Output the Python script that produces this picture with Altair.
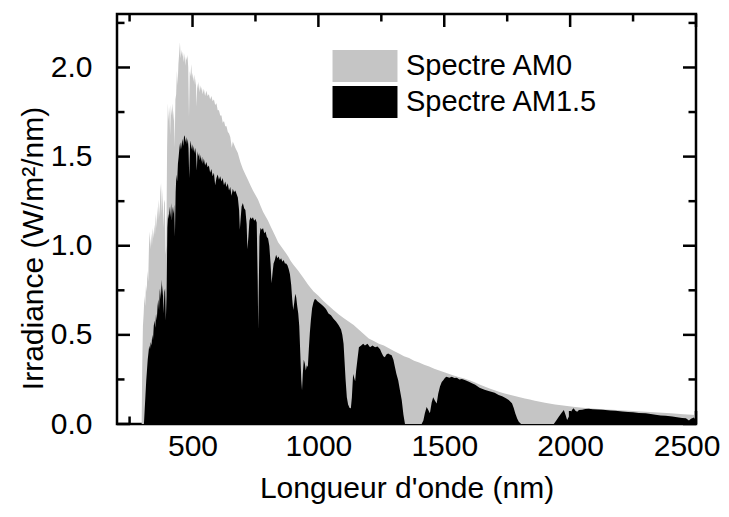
import altair as alt
import pandas as pd

# ---------------- data ----------------
SERIES = ["Spectre AM0", "Spectre AM1.5"]
COLORS = ["#c5c5c5", "#000000"]

AM0_WL = [
    298, 300, 303, 306, 309, 312, 315, 318, 321, 324,
    327, 330, 333, 336, 339, 342, 345, 348, 351, 354,
    357, 360, 363, 366, 369, 372, 375, 378, 381, 384,
    387, 390, 393, 396, 399, 402, 405, 408, 411, 414,
    417, 420, 423, 426, 429, 432, 435, 438, 441, 444,
    447, 450, 453, 456, 459, 462, 465, 468, 471, 474,
    477, 480, 483, 486, 489, 492, 495, 498, 501, 504,
    507, 510, 513, 516, 519, 522, 525, 528, 531, 534,
    537, 540, 545, 550, 555, 560, 565, 570, 575, 580,
    585, 590, 595, 600, 605, 610, 615, 620, 625, 630,
    635, 640, 645, 650, 656, 660, 670, 680, 690, 700,
    710, 720, 730, 740, 750, 760, 770, 780, 790, 800,
    810, 820, 830, 840, 850, 860, 870, 880, 890, 900,
    920, 940, 960, 980, 1000, 1020, 1040, 1060, 1080, 1100,
    1120, 1140, 1160, 1180, 1200, 1220, 1240, 1260, 1280, 1300,
    1320, 1340, 1360, 1380, 1400, 1420, 1440, 1460, 1480, 1500,
    1520, 1540, 1560, 1580, 1600, 1620, 1640, 1660, 1680, 1700,
    1720, 1740, 1760, 1780, 1800, 1820, 1840, 1860, 1880, 1900,
    1940, 1980, 2020, 2060, 2100, 2150, 2200, 2250, 2300, 2350,
    2400, 2450, 2500,
]
AM0_IRR = [
    0.00, 0.30, 0.55, 0.62, 0.72, 0.66, 0.78, 0.74, 0.86, 0.80,
    1.00, 1.08, 0.98, 1.07, 1.00, 1.10, 1.04, 1.12, 1.06, 1.18,
    1.10, 1.22, 1.14, 1.26, 1.16, 1.30, 1.35, 1.18, 1.32, 1.10,
    1.24, 1.26, 0.95, 1.00, 1.55, 1.80, 1.70, 1.78, 1.62, 1.79,
    1.73, 1.80, 1.70, 1.76, 1.55, 1.82, 1.85, 1.98, 1.90, 2.02,
    2.08, 2.14, 2.05, 2.10, 2.06, 2.09, 2.03, 2.08, 2.01, 2.06,
    2.04, 2.07, 2.00, 1.72, 1.98, 1.95, 2.02, 1.94, 1.97, 1.92,
    1.96, 1.90, 1.94, 1.78, 1.91, 1.88, 1.92, 1.86, 1.90, 1.87,
    1.89, 1.85, 1.88, 1.84, 1.87, 1.84, 1.85, 1.82, 1.84, 1.81,
    1.82, 1.79, 1.80, 1.76, 1.76, 1.73, 1.73, 1.69, 1.70, 1.67,
    1.67, 1.64, 1.63, 1.61, 1.55, 1.585, 1.55, 1.52, 1.47, 1.43,
    1.40, 1.37, 1.34, 1.31, 1.285, 1.26, 1.225, 1.19, 1.165, 1.14,
    1.11, 1.08, 1.05, 1.02, 1.00, 0.98, 0.96, 0.94, 0.915, 0.895,
    0.86, 0.82, 0.78, 0.745, 0.72, 0.69, 0.665, 0.64, 0.615, 0.595,
    0.575, 0.555, 0.53, 0.505, 0.48, 0.465, 0.45, 0.44, 0.425, 0.41,
    0.395, 0.38, 0.37, 0.355, 0.345, 0.333, 0.322, 0.31, 0.30, 0.29,
    0.28, 0.27, 0.262, 0.255, 0.245, 0.234, 0.222, 0.210, 0.199, 0.189,
    0.180, 0.171, 0.164, 0.157, 0.150, 0.143, 0.137, 0.131, 0.125, 0.119,
    0.109, 0.102, 0.096, 0.090, 0.086, 0.081, 0.077, 0.073, 0.069, 0.065,
    0.060, 0.055, 0.050,
]

AM15_WL = [
    300, 307, 310, 313, 316, 319, 322, 325, 328, 331,
    334, 337, 340, 343, 346, 349, 352, 355, 358, 361,
    364, 367, 370, 373, 376, 379, 382, 385, 388, 391,
    394, 397, 400, 403, 406, 409, 412, 415, 418, 421,
    424, 427, 430, 433, 436, 439, 442, 445, 448, 451,
    454, 457, 460, 463, 466, 469, 472, 475, 478, 481,
    484, 487, 490, 493, 496, 499, 502, 505, 508, 511,
    514, 517, 520, 523, 526, 529, 532, 535, 538, 541,
    545, 550, 555, 560, 565, 570, 575, 580, 585, 590,
    595, 600, 605, 610, 615, 620, 625, 630, 635, 640,
    645, 650, 655, 660, 665, 670, 675, 680, 685, 688,
    691, 695, 700, 705, 710, 715, 718, 722, 726, 730,
    735, 740, 745, 750, 755, 759, 761, 763, 766, 770,
    775, 780, 785, 790, 795, 800, 805, 810, 814, 818,
    822, 827, 832, 837, 842, 847, 852, 857, 862, 867,
    872, 877, 882, 887, 892, 896, 900, 904, 908, 912,
    916, 920, 924, 928, 932, 935, 938, 942, 946, 950,
    954, 958, 962, 966, 970, 975, 980, 985, 990, 995,
    1000, 1010, 1020, 1030, 1040, 1050, 1060, 1070, 1080, 1090,
    1095, 1100, 1104, 1108, 1113, 1118, 1124, 1129, 1133, 1138,
    1142, 1146, 1150, 1155, 1161, 1170, 1178, 1185, 1195, 1205,
    1215, 1225, 1235, 1245, 1251, 1258, 1264, 1270, 1277, 1284,
    1291, 1298, 1304, 1310, 1317, 1324, 1331, 1338, 1344, 1410,
    1417, 1423, 1430, 1436, 1443, 1450, 1456, 1463, 1470, 1476,
    1483, 1490, 1496, 1503, 1509, 1520, 1530, 1540, 1550, 1560,
    1570, 1584, 1600, 1610, 1623, 1640, 1660, 1676, 1690, 1700,
    1716, 1730, 1745, 1756, 1769, 1776, 1782, 1790, 1796, 1805,
    1935, 1945, 1955, 1965, 1975, 1982, 1988, 1995, 2001, 2008,
    2014, 2021, 2028, 2035, 2048, 2060, 2074, 2090, 2110, 2130,
    2160, 2180, 2207, 2230, 2250, 2273, 2300, 2320, 2339, 2360,
    2380, 2406, 2425, 2445, 2460, 2472, 2480, 2492, 2500,
]
AM15_IRR = [
    0.0, 0.0, 0.08, 0.16, 0.24, 0.30, 0.36, 0.40, 0.44, 0.42,
    0.46, 0.44, 0.50, 0.47, 0.55, 0.58, 0.54, 0.62, 0.58, 0.66,
    0.70, 0.64, 0.76, 0.70, 0.81, 0.72, 0.78, 0.62, 0.74, 0.76,
    0.58, 0.72, 1.10, 1.18, 1.15, 1.22, 1.16, 1.24, 1.14, 1.22,
    1.18, 1.23, 1.05, 1.30, 1.40, 1.36, 1.46, 1.50, 1.55, 1.58,
    1.54, 1.57, 1.60, 1.56, 1.61, 1.62, 1.58, 1.61, 1.57, 1.60,
    1.55, 1.38, 1.56, 1.59, 1.54, 1.57, 1.53, 1.56, 1.52, 1.55,
    1.51, 1.42, 1.53, 1.50, 1.52, 1.48, 1.51, 1.47, 1.50, 1.46,
    1.49, 1.45, 1.47, 1.44, 1.45, 1.41, 1.43, 1.39, 1.41, 1.34,
    1.38, 1.40, 1.37, 1.39, 1.36, 1.38, 1.34, 1.36, 1.33, 1.35,
    1.31, 1.33, 1.28, 1.32, 1.30, 1.31, 1.29, 1.27, 1.20, 1.09,
    1.15, 1.22, 1.24, 1.21, 1.20, 1.12, 0.98, 1.05, 1.14, 1.16,
    1.15, 1.16, 1.14, 1.15, 1.13, 0.80, 0.53, 0.75, 1.05, 1.10,
    1.09, 1.10, 1.07, 1.08, 1.05, 1.04, 1.00, 0.90, 0.79, 0.85,
    0.90, 0.92, 0.95, 0.93, 0.94, 0.92, 0.93, 0.91, 0.92, 0.90,
    0.90, 0.89, 0.87, 0.84, 0.78, 0.70, 0.64, 0.68, 0.73, 0.71,
    0.66, 0.62, 0.55, 0.40, 0.25, 0.19, 0.28, 0.36, 0.34, 0.30,
    0.33, 0.32, 0.42, 0.51, 0.58, 0.65, 0.68, 0.70, 0.70, 0.69,
    0.685, 0.673, 0.66, 0.645, 0.62, 0.61, 0.59, 0.575, 0.555, 0.53,
    0.50, 0.45, 0.35, 0.25, 0.15, 0.11, 0.09, 0.088, 0.15, 0.28,
    0.26, 0.24, 0.30, 0.36, 0.43, 0.44, 0.45, 0.44, 0.45, 0.43,
    0.44, 0.43, 0.435, 0.42, 0.40, 0.38, 0.375, 0.39, 0.395, 0.39,
    0.385, 0.36, 0.32, 0.28, 0.245, 0.19, 0.135, 0.05, 0.0, 0.0,
    0.02, 0.06, 0.095, 0.08, 0.06, 0.12, 0.15, 0.13, 0.115, 0.17,
    0.21, 0.235, 0.245, 0.26, 0.265, 0.26, 0.265, 0.258, 0.26, 0.25,
    0.252, 0.245, 0.235, 0.228, 0.22, 0.203, 0.192, 0.185, 0.180, 0.175,
    0.163, 0.155, 0.145, 0.135, 0.116, 0.09, 0.06, 0.03, 0.013, 0.0,
    0.0, 0.02, 0.04, 0.06, 0.079, 0.05, 0.022, 0.04, 0.06, 0.08,
    0.088, 0.075, 0.069, 0.078, 0.080, 0.084, 0.085, 0.083, 0.082, 0.080,
    0.076, 0.074, 0.070, 0.068, 0.066, 0.062, 0.060, 0.056, 0.052, 0.048,
    0.046, 0.042, 0.038, 0.034, 0.032, 0.020, 0.030, 0.036, 0.020,
]

X_MAJOR = [500, 1000, 1500, 2000, 2500]
X_MINOR = [250, 750, 1250, 1750, 2250]
Y_MAJOR = [0.0, 0.5, 1.0, 1.5, 2.0]
Y_MINOR = [0.25, 0.75, 1.25, 1.75, 2.25]
X_DOMAIN = [200, 2500]
Y_DOMAIN = [0, 2.3]

X_TITLE = "Longueur d'onde (nm)"
Y_TITLE = "Irradiance (W/m²/nm)"

# ---------------- layout / style ----------------
W, H = 579, 410
MAJOR_LEN, MINOR_LEN = 13, 7.5
TICK_W = 2.5
FONT = "Liberation Sans"

assert len(AM0_WL) == len(AM0_IRR), (len(AM0_WL), len(AM0_IRR))
assert len(AM15_WL) == len(AM15_IRR), (len(AM15_WL), len(AM15_IRR))

df = pd.concat([
    pd.DataFrame({"wl": AM0_WL, "irr": AM0_IRR, "serie": SERIES[0]}),
    pd.DataFrame({"wl": AM15_WL, "irr": AM15_IRR, "serie": SERIES[1]}),
], ignore_index=True)

xs = alt.Scale(domain=X_DOMAIN, nice=False, zero=False)
ys = alt.Scale(domain=Y_DOMAIN, nice=False)

x_axis = alt.Axis(
    values=X_MAJOR, format="d", ticks=False, tickSize=0, domain=False, grid=False,
    labelFont=FONT, labelFontSize=30, labelColor="black", labelPadding=31,
    labelBaseline="alphabetic", labelFlush=1, labelFlushOffset=24, labelOverlap=False,
    title=X_TITLE, titleFont=FONT, titleFontSize=30, titleFontWeight="normal",
    titleColor="black", titleBaseline="alphabetic", titleY=73,
)
y_axis = alt.Axis(
    values=Y_MAJOR, format=".1f", ticks=False, tickSize=0, domain=False, grid=False,
    labelFont=FONT, labelFontSize=30, labelColor="black", labelPadding=25,
    labelBaseline="middle", labelFlush=False, labelOverlap=False,
    title=Y_TITLE, titleFont=FONT, titleFontSize=30, titleFontWeight="normal",
    titleColor="black", titleBaseline="alphabetic", titleX=-75, titleY=234,
    titleAngle=270, titleAlign="center",
)

# legend swatch: 65 x 32 px rectangle (path in units of sqrt(size)/2 = 16 px)
legend = alt.Legend(
    title=None, orient="none", legendX=232, legendY=36, padding=0,
    symbolType="M-2.03,-1H2.03V1H-2.03Z", symbolSize=1024, symbolStrokeWidth=0,
    symbolOpacity=1, labelFont=FONT, labelFontSize=29, labelColor="black",
    labelOffset=25, rowPadding=4, labelLimit=0,
)
color = alt.Color("serie:N", scale=alt.Scale(domain=SERIES, range=COLORS), legend=legend)

base = alt.Chart(df)


def area(name):
    return base.transform_filter(alt.datum.serie == name).mark_area(
        interpolate="linear", opacity=1
    ).encode(
        x=alt.X("wl:Q", scale=xs, axis=x_axis),
        y=alt.Y("irr:Q", scale=ys, axis=y_axis, stack=None),
        color=color,
    )


def xticks(vals, length, top):
    yv = length / 2 if top else H - length / 2
    return alt.Chart(pd.DataFrame({"wl": vals})).mark_tick(
        orient="vertical", size=length, thickness=TICK_W, color="black", opacity=1
    ).encode(x=alt.X("wl:Q", scale=xs, axis=x_axis), y=alt.value(yv))


def yticks(vals, length, right):
    xv = W - length / 2 if right else length / 2
    return alt.Chart(pd.DataFrame({"irr": vals})).mark_tick(
        orient="horizontal", size=length, thickness=TICK_W, color="black", opacity=1
    ).encode(y=alt.Y("irr:Q", scale=ys, axis=y_axis), x=alt.value(xv))


layers = [area(SERIES[0]), area(SERIES[1])]
for side in (False, True):
    layers.append(xticks(X_MAJOR, MAJOR_LEN, side))
    layers.append(xticks(X_MINOR, MINOR_LEN, side))
    layers.append(yticks(Y_MAJOR, MAJOR_LEN, side))
    layers.append(yticks(Y_MINOR, MINOR_LEN, side))

chart = alt.layer(*layers).properties(
    width=W, height=H,
    padding={"left": 109, "top": 6, "right": 25, "bottom": 81},
    autosize=alt.AutoSizeParams(type="none"),
    background="white",
).configure_view(stroke="black", strokeWidth=2.5)

chart.save("out.html", embed_options={"renderer": "svg", "actions": False})
